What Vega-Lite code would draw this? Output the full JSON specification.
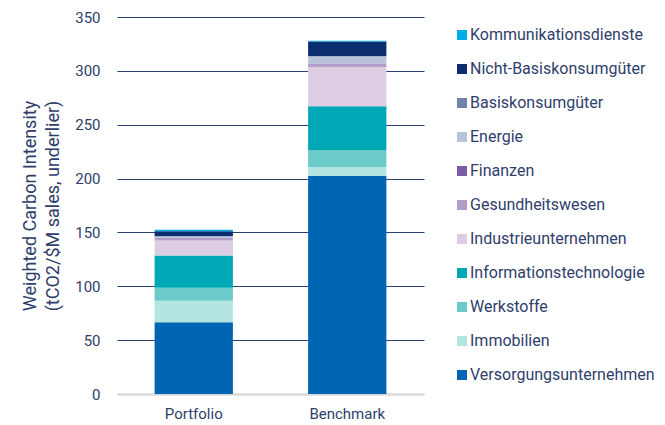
{
  "$schema": "https://vega.github.io/schema/vega-lite/v6.json",
  "width": 307,
  "height": 377,
  "autosize": {"type": "none"},
  "padding": {"left": 117, "top": 17, "right": 241, "bottom": 31},
  "background": "white",
  "config": {
    "font": "Roboto",
    "view": {"stroke": null}
  },
  "data": {
    "values": [
      {"portfolio": "Portfolio", "sector": "Versorgungsunternehmen", "rank": 1, "value": 66.6},
      {"portfolio": "Portfolio", "sector": "Immobilien", "rank": 2, "value": 20.0},
      {"portfolio": "Portfolio", "sector": "Werkstoffe", "rank": 3, "value": 12.0},
      {"portfolio": "Portfolio", "sector": "Informationstechnologie", "rank": 4, "value": 30.0},
      {"portfolio": "Portfolio", "sector": "Industrieunternehmen", "rank": 5, "value": 14.0},
      {"portfolio": "Portfolio", "sector": "Gesundheitswesen", "rank": 6, "value": 2.2},
      {"portfolio": "Portfolio", "sector": "Finanzen", "rank": 7, "value": 0.3},
      {"portfolio": "Portfolio", "sector": "Energie", "rank": 8, "value": 1.2},
      {"portfolio": "Portfolio", "sector": "Basiskonsumgüter", "rank": 9, "value": 0.5},
      {"portfolio": "Portfolio", "sector": "Nicht-Basiskonsumgüter", "rank": 10, "value": 4.4},
      {"portfolio": "Portfolio", "sector": "Kommunikationsdienste", "rank": 11, "value": 1.3},
      {"portfolio": "Benchmark", "sector": "Versorgungsunternehmen", "rank": 1, "value": 202.7},
      {"portfolio": "Benchmark", "sector": "Immobilien", "rank": 2, "value": 8.1},
      {"portfolio": "Benchmark", "sector": "Werkstoffe", "rank": 3, "value": 15.8},
      {"portfolio": "Benchmark", "sector": "Informationstechnologie", "rank": 4, "value": 40.5},
      {"portfolio": "Benchmark", "sector": "Industrieunternehmen", "rank": 5, "value": 36.5},
      {"portfolio": "Benchmark", "sector": "Gesundheitswesen", "rank": 6, "value": 3.0},
      {"portfolio": "Benchmark", "sector": "Finanzen", "rank": 7, "value": 0.3},
      {"portfolio": "Benchmark", "sector": "Energie", "rank": 8, "value": 6.5},
      {"portfolio": "Benchmark", "sector": "Basiskonsumgüter", "rank": 9, "value": 0.5},
      {"portfolio": "Benchmark", "sector": "Nicht-Basiskonsumgüter", "rank": 10, "value": 13.3},
      {"portfolio": "Benchmark", "sector": "Kommunikationsdienste", "rank": 11, "value": 0.8}
    ]
  },
  "mark": {"type": "bar"},
  "encoding": {
    "x": {
      "field": "portfolio",
      "type": "nominal",
      "sort": ["Portfolio", "Benchmark"],
      "scale": {"paddingInner": 0.49, "paddingOuter": 0.245},
      "axis": {
        "title": null,
        "labelAngle": 0,
        "labelFontSize": 15,
        "labelColor": "#2f3e6b",
        "labelPadding": 12,
        "ticks": false,
        "domainColor": "#d9d9d9",
        "domainWidth": 2,
        "grid": false
      }
    },
    "y": {
      "field": "value",
      "type": "quantitative",
      "aggregate": "sum",
      "stack": "zero",
      "scale": {"domain": [0, 350], "nice": false},
      "axis": {
        "values": [0, 50, 100, 150, 200, 250, 300, 350],
        "title": ["Weighted Carbon Intensity", "(tCO2/$M sales, underlier)"],
        "titleFontSize": 18,
        "titleFontWeight": "normal",
        "titleColor": "#2f3e6b",
        "titlePadding": 12,
        "titleLineHeight": 23,
        "labelFontSize": 15,
        "labelColor": "#2f3e6b",
        "labelPadding": 17,
        "ticks": false,
        "domain": false,
        "gridColor": {"condition": {"test": "datum.value === 0", "value": "#d9d9d9"}, "value": "#2b3f72"},
        "gridWidth": {"condition": {"test": "datum.value === 0", "value": 2}, "value": 1}
      }
    },
    "color": {
      "field": "sector",
      "type": "nominal",
      "scale": {
        "domain": ["Kommunikationsdienste", "Nicht-Basiskonsumgüter", "Basiskonsumgüter", "Energie", "Finanzen", "Gesundheitswesen", "Industrieunternehmen", "Informationstechnologie", "Werkstoffe", "Immobilien", "Versorgungsunternehmen"],
        "range": ["#00aee6", "#0b2c6e", "#6e85ab", "#b7c3d7", "#7d5ca6", "#b39dc9", "#dccde3", "#00a8b5", "#6bcbc8", "#b3e5e3", "#0066b3"]
      },
      "legend": {
        "title": null,
        "orient": "none",
        "legendX": 337,
        "legendY": 10,
        "padding": 0,
        "symbolType": "square",
        "symbolSize": 100,
        "symbolStrokeWidth": 0,
        "labelFontSize": 16,
        "labelColor": "#2f3e6b",
        "labelOffset": 0,
        "rowPadding": 18,
        "labelLimit": 300
      }
    },
    "order": {"field": "rank", "type": "quantitative", "aggregate": "min", "sort": "ascending"}
  }
}
